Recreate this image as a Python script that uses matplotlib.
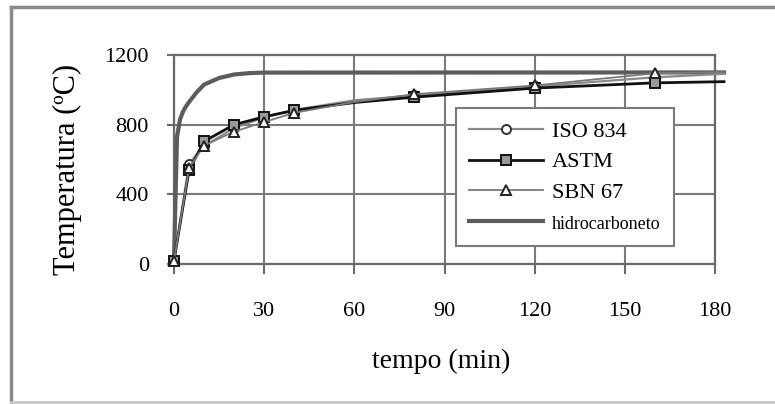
import matplotlib.pyplot as plt
from matplotlib.lines import Line2D

plt.rcParams['font.family'] = ['Liberation Serif', 'DejaVu Serif']

# fire curves, temperature in C against time in minutes
tempo_norma = [0, 5, 10, 20, 30, 40, 60, 80, 120, 160, 183]
iso_834 = [20, 576, 678, 781, 842, 885, 940, 968, 1020, 1072, 1092]
astm = [20, 538, 704, 800, 845, 882, 927, 958, 1010, 1040, 1047]
sbn_67 = [20, 550, 680, 760, 815, 868, 930, 975, 1025, 1095, 1102]

tempo_hc = [0, 1, 2, 3, 4, 5, 7.5, 10, 15, 20, 25, 30, 183]
hidrocarboneto = [20, 730, 830, 875, 905, 930, 985, 1030, 1068, 1088, 1096, 1099, 1100]

marcadores = [0, 1, 2, 3, 4, 5, 7, 8, 9]

fig = plt.figure(figsize=(7.75, 4.04), dpi=100)
ax = fig.add_axes([174 / 775, 140 / 404, 541 / 775, 209 / 404])

# Plot the curves
ax.plot(tempo_hc, hidrocarboneto, color='#5c5c5c', lw=3.0, clip_on=False,
        label='hidrocarboneto', zorder=3)
ax.plot(tempo_norma, iso_834, color='#8a8a8a', lw=1.6, marker='o', ms=6.5,
        mfc='white', mec='#333333', mew=1.4, markevery=marcadores,
        clip_on=False, label='ISO 834', zorder=4)
ax.plot(tempo_norma, astm, color='#111111', lw=2.0, marker='s', ms=6.5,
        mfc='#9a9a9a', mec='#111111', mew=1.4, markevery=marcadores,
        clip_on=False, label='ASTM', zorder=5)
ax.plot(tempo_norma, sbn_67, color='#7a7a7a', lw=1.3, marker='^', ms=7,
        mfc='white', mec='#222222', mew=1.4, markevery=marcadores,
        clip_on=False, label='SBN 67', zorder=6)

# Axes, grid and ticks
ax.set_xlim(0, 180)
ax.set_ylim(0, 1200)
ax.set_xticks(range(0, 181, 30))
ax.set_yticks(range(0, 1201, 400))
ax.grid(True, color='#7a7a7a', lw=1.5)
ax.set_axisbelow(True)
for s in ax.spines.values():
    s.set_color('#6a6a6a')
    s.set_linewidth(1.6)
ax.tick_params(axis='x', length=7, width=1.5, color='#6a6a6a', pad=20,
               labelsize=16)
ax.tick_params(axis='y', length=5, width=1.5, color='#6a6a6a', pad=13,
               labelsize=16)

fig.text(441 / 775, 43 / 404, 'tempo (min)', fontsize=20, ha='center',
         va='center')
fig.text(67 / 775, 235 / 404, 'Temperatura (ºC)', fontsize=22,
         rotation=90, ha='center', va='center')

# Legend
h = [Line2D([], [], color='#8a8a8a', lw=1.6, marker='o', ms=6.5, mfc='white',
            mec='#333333', mew=1.4),
     Line2D([], [], color='#111111', lw=2.0, marker='s', ms=6.5,
            mfc='#9a9a9a', mec='#111111', mew=1.4),
     Line2D([], [], color='#7a7a7a', lw=1.3, marker='^', ms=7, mfc='white',
            mec='#222222', mew=1.4),
     Line2D([], [], color='#5c5c5c', lw=3.0)]
leg = ax.legend(h, ['ISO 834', 'ASTM', 'SBN 67', 'hidrocarboneto'],
                loc='upper left', bbox_to_anchor=(456 / 775, 296 / 404),
                bbox_transform=fig.transFigure, borderaxespad=0,
                fontsize=16, handlelength=3.3, handletextpad=0.4,
                labelspacing=0.45, borderpad=0.6, fancybox=False,
                framealpha=1, edgecolor='#7a7a7a')
leg.get_frame().set_linewidth(1.5)
leg.get_texts()[3].set_fontsize(13)
leg.set_zorder(10)

# Outer frame
fig.add_artist(Line2D([11 / 775, 11 / 775], [2 / 404, 397 / 404],
                      color='#8a8a8a', lw=2.5))
fig.add_artist(Line2D([11 / 775, 1.0], [397 / 404, 397 / 404],
                      color='#8a8a8a', lw=2.5))
fig.add_artist(Line2D([11 / 775, 1.0], [2 / 404, 2 / 404],
                      color='#c8c8c8', lw=2))

fig.savefig('out.png', dpi=100)
